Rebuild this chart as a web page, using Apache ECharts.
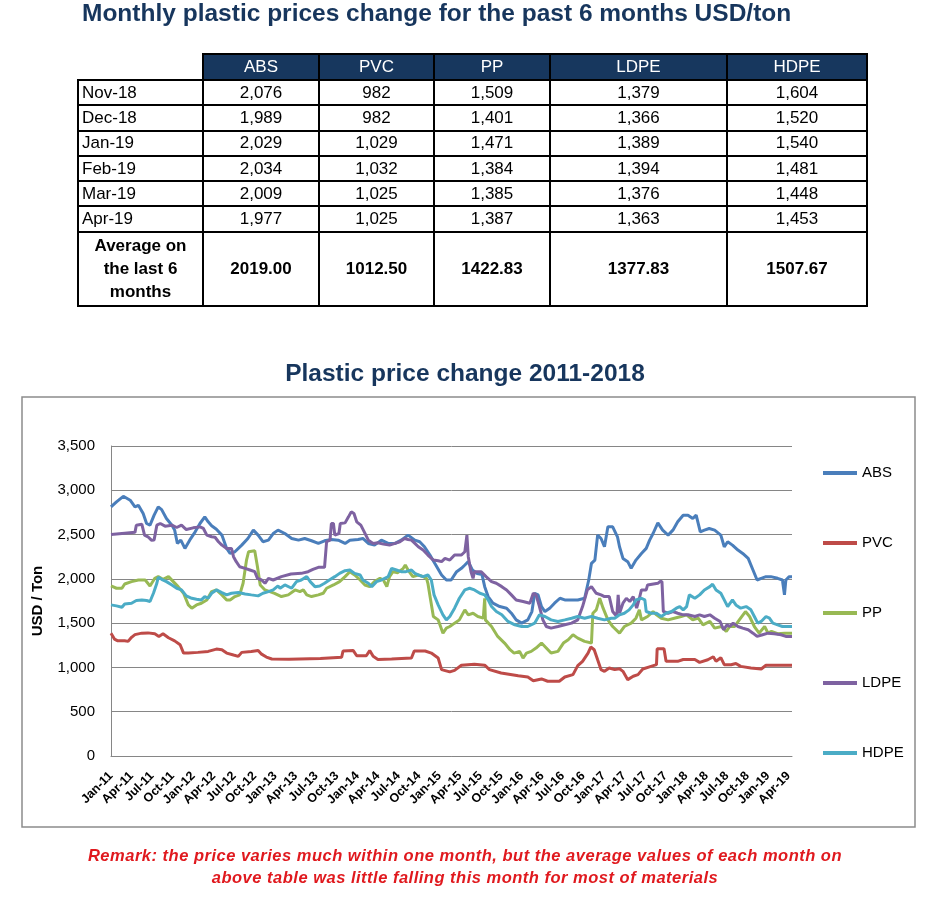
<!DOCTYPE html>
<html>
<head>
<meta charset="utf-8">
<script src="https://cdn.jsdelivr.net/npm/echarts@6/dist/echarts.min.js"></script>
<style>
  html, body { margin: 0; padding: 0; background: #fff; }
  #page { position: relative; width: 930px; height: 900px; overflow: hidden; font-family: "Liberation Sans", Arial, sans-serif; }
  #chart { position: absolute; left: 0; top: 0; width: 930px; height: 900px; }
  .ttl { position: absolute; font-weight: bold; font-size: 24.5px; line-height: 24px; color: #17365d; white-space: nowrap; z-index: 2; }
  #tbl { position: absolute; left: 77px; top: 53px; border-collapse: collapse; table-layout: fixed; font-size: 17px; z-index: 2; }
  #tbl td { border: 2px solid #000; padding: 0; text-align: center; overflow: hidden; white-space: nowrap; color: #000; }
  #tbl td.hd { background: #17375e; color: #fff; height: 24px; }
  #tbl td.blank { border-top: hidden; border-left: hidden; background: #fff; }
  #tbl td.lab { text-align: left; padding-left: 3px; }
  #tbl tr.dr td { height: 23.3px; }
  #tbl tr.avg td { height: 72px; font-weight: bold; line-height: 23px; white-space: normal; }
  #remark { position: absolute; left: 0; width: 930px; top: 844px; text-align: center; color: #e0191e; font-weight: bold; font-style: italic; font-size: 16.5px; letter-spacing: 0.5px; line-height: 22px; z-index: 2; }
</style>
</head>
<body>
<div id="page">
  <div id="chart"></div>
  <div class="ttl" id="title1" style="top:1px; left:82px;"></div>
  <table id="tbl"></table>
  <div class="ttl" id="title2" style="top:361px; left:0; width:930px; text-align:center;"></div>
  <div id="remark"></div>
</div>
<script>
// ---------- texts ----------
const title1Text = 'Monthly plastic prices change for the past 6 months USD/ton';
const title2Text = 'Plastic price change 2011-2018';
const remarkLines = [
  'Remark: the price varies much within one month, but the average values of each month on',
  'above table was little falling this month for most of materials'
];
const yAxisName = 'USD / Ton';

// ---------- table data ----------
const tableHeaders = ['ABS', 'PVC', 'PP', 'LDPE', 'HDPE'];
const tableMonths = ['Nov-18', 'Dec-18', 'Jan-19', 'Feb-19', 'Mar-19', 'Apr-19'];
const tableABS  = [2076, 1989, 2029, 2034, 2009, 1977];
const tablePVC  = [982, 982, 1029, 1032, 1025, 1025];
const tablePP   = [1509, 1401, 1471, 1384, 1385, 1387];
const tableLDPE = [1379, 1366, 1389, 1394, 1376, 1363];
const tableHDPE = [1604, 1520, 1540, 1481, 1448, 1453];
const tableAvgLabel = 'Average on the last 6 months';
const tableAvg = [2019.00, 1012.50, 1422.83, 1377.83, 1507.67];

// ---------- chart axis labels ----------
const xTickLabels = [
  'Jan-11','Apr-11','Jul-11','Oct-11','Jan-12','Apr-12','Jul-12','Oct-12',
  'Jan-13','Apr-13','Jul-13','Oct-13','Jan-14','Apr-14','Jul-14','Oct-14',
  'Jan-15','Apr-15','Jul-15','Oct-15','Jan-16','Apr-16','Jul-16','Oct-16',
  'Jan-17','Apr-17','Jul-17','Oct-17','Jan-18','Apr-18','Jul-18','Oct-18',
  'Jan-19','Apr-19'
];
const seriesNames = ['ABS', 'PVC', 'PP', 'LDPE', 'HDPE'];

// ---------- chart series: [months since Jan-11, USD/ton] ----------
const absData = [[0,2812],[0.8,2870],[1.8,2932],[2.8,2888],[3.5,2812],[4,2830],[4.7,2737],[5.2,2625],[5.7,2606],[6.3,2719],[6.9,2812],[7.4,2782],[8.1,2681],[8.9,2606],[9.3,2550],[9.7,2400],[10.2,2437],[10.8,2344],[11.5,2437],[12.3,2531],[13,2625],[13.7,2700],[14.2,2644],[14.7,2600],[15.4,2560],[16.2,2494],[16.9,2344],[17.4,2287],[18.1,2306],[19.1,2381],[20,2456],[20.8,2550],[21.5,2494],[22.2,2419],[23,2437],[23.7,2512],[24.4,2550],[25.4,2512],[26.4,2456],[27.4,2437],[28.3,2456],[29.3,2430],[30.3,2400],[31.2,2430],[32.2,2445],[33.2,2437],[34.2,2400],[34.9,2437],[36.1,2445],[36.8,2456],[37.6,2400],[38.5,2381],[39.5,2437],[40.5,2400],[41.5,2400],[42.4,2437],[43.4,2494],[44.4,2437],[45.1,2419],[45.8,2362],[46.6,2269],[47.3,2175],[48.3,2044],[49,1987],[49.7,1987],[50.5,2081],[51.2,2119],[51.7,2156],[52.2,2194],[52.8,2100],[53.5,2060],[54.2,2050],[54.6,1912],[55.1,1800],[55.8,1725],[56.8,1687],[57.8,1669],[58.5,1612],[59.2,1537],[60,1500],[60.9,1537],[61.5,1631],[61.9,1837],[62.4,1819],[62.9,1687],[63.4,1631],[64.1,1669],[64.8,1725],[65.6,1781],[66.3,1762],[67.3,1762],[68.2,1762],[69.2,1781],[69.8,1987],[70.2,2175],[70.7,2212],[71.1,2494],[71.6,2456],[72.1,2362],[72.6,2587],[73.3,2587],[74,2475],[74.3,2362],[74.8,2231],[75.5,2194],[76,2119],[76.7,2212],[77.5,2287],[78.2,2344],[78.7,2437],[79.2,2512],[79.9,2632],[80.6,2550],[81.4,2494],[82.1,2550],[82.8,2644],[83.6,2719],[84.3,2719],[85,2681],[85.5,2719],[86.1,2531],[86.7,2550],[87.4,2569],[88.2,2550],[89.1,2494],[89.6,2362],[90.1,2419],[90.8,2381],[91.6,2325],[92.3,2287],[93.1,2231],[93.8,2100],[94.4,1987],[95,2006],[95.7,2025],[96.4,2025],[97.4,2006],[98.1,1987],[98.4,1819],[98.6,1987],[99.1,2025],[99.5,2025]];
const pvcData = [[0,1387],[0.5,1320],[1,1300],[2,1300],[2.5,1294],[3,1340],[3.5,1370],[4.5,1387],[5.4,1390],[6.4,1380],[7,1350],[7.6,1380],[8.4,1335],[9.3,1300],[10.1,1256],[10.6,1162],[11.3,1162],[12.7,1170],[14.2,1181],[15.4,1207],[16.2,1200],[16.9,1162],[17.9,1140],[18.6,1125],[19.1,1170],[20.5,1181],[21.5,1192],[22,1150],[22.7,1117],[23.5,1095],[26,1093],[30.6,1100],[33.7,1115],[33.9,1185],[35.4,1190],[35.9,1132],[37.3,1132],[37.8,1190],[38.3,1125],[39,1090],[41,1095],[43.9,1106],[44.3,1185],[45.9,1185],[46.8,1162],[47.8,1106],[48.3,975],[49.5,950],[50.2,967],[51.2,1025],[53.1,1035],[54.6,1025],[55.3,975],[57,937],[59.5,907],[60.9,892],[61.7,850],[62.9,870],[63.8,844],[65.5,844],[66.3,892],[67.5,919],[68.2,1020],[68.9,1069],[69.7,1162],[70.1,1230],[70.6,1200],[71.1,1087],[71.6,975],[72.1,956],[72.8,994],[73.6,975],[74.3,985],[74.8,956],[75.5,862],[76.3,900],[77,919],[77.7,982],[78.9,1012],[79.7,1031],[79.8,1210],[80.8,1210],[81.1,1069],[82.8,1069],[83.6,1090],[85.3,1090],[86,1057],[87.2,1087],[88,1120],[88.4,1069],[89.1,1110],[89.6,1031],[90.6,1031],[91.3,1045],[92,1012],[93.5,994],[95,982],[95.7,1025],[99.5,1025]];
const ppData = [[0,1920],[0.8,1894],[1.6,1894],[2,1942],[3,1969],[4,1987],[5,1987],[5.7,1920],[6.4,2006],[6.9,2025],[7.6,1995],[8.4,2025],[9.1,1969],[9.8,1912],[10.6,1837],[11.3,1706],[11.8,1669],[12.5,1706],[13.2,1725],[14,1762],[14.7,1856],[15.4,1875],[16.2,1819],[16.9,1762],[17.4,1762],[18.1,1800],[18.8,1819],[19.3,1950],[19.8,2212],[20.1,2306],[21,2317],[21.4,2137],[21.8,1931],[22.5,1875],[23.2,1856],[23.9,1837],[24.9,1800],[25.9,1819],[26.9,1875],[27.6,1856],[28.1,1875],[28.6,1819],[29.3,1800],[30.3,1819],[31,1837],[31.5,1894],[32.5,1931],[33.4,1969],[34.2,2025],[34.9,2081],[35.6,2044],[36.4,1987],[37.1,1931],[37.8,1912],[38.5,1969],[39.3,2006],[39.8,1987],[40.3,1912],[40.7,2025],[41.2,2081],[41.9,2070],[42.7,2119],[43,2156],[43.4,2100],[44.1,2025],[44.9,2044],[45.6,2025],[46.1,2006],[46.3,1950],[46.7,1762],[47.1,1575],[47.8,1537],[48.5,1387],[49,1444],[49.5,1462],[50.2,1500],[50.9,1537],[51.7,1650],[52.2,1594],[52.9,1612],[53.6,1575],[54.4,1556],[54.6,1781],[54.7,1537],[55.6,1462],[56.5,1350],[57.5,1275],[58.3,1200],[58.9,1162],[59.7,1181],[60.2,1106],[60.7,1162],[61.4,1181],[62.1,1219],[62.9,1275],[63.6,1219],[64.3,1162],[65.3,1181],[66.1,1275],[66.8,1312],[67.5,1369],[68.2,1331],[69.2,1294],[70.2,1275],[70.4,1612],[70.9,1650],[71.4,1781],[71.9,1669],[72.6,1537],[73.3,1462],[74.3,1387],[75,1462],[76,1500],[76.7,1556],[77.2,1650],[77.5,1537],[78.4,1575],[79.2,1631],[79.7,1594],[80.4,1556],[81.4,1537],[82.3,1556],[83.3,1575],[84.1,1594],[85,1537],[85.8,1556],[86.5,1481],[87.5,1519],[88.2,1444],[89.2,1462],[89.9,1406],[90.4,1462],[91.1,1462],[91.8,1537],[92.7,1631],[93.3,1575],[94,1462],[94.7,1387],[95.5,1462],[96,1387],[96.5,1406],[97.4,1380],[98.4,1387],[99.5,1387]];
const ldpeData = [[0,2500],[2,2515],[3.5,2525],[3.7,2606],[4.5,2617],[4.9,2494],[5.4,2475],[5.9,2437],[6.3,2440],[6.7,2606],[7.2,2625],[7.9,2595],[8.9,2606],[9.6,2580],[10.3,2606],[11,2557],[12,2576],[13,2587],[13.5,2569],[14,2494],[14.7,2475],[15.2,2470],[15.7,2419],[16.2,2381],[16.9,2344],[17.6,2344],[17.9,2250],[18.3,2194],[18.8,2137],[19.6,2119],[20.3,2100],[21,2081],[21.4,2006],[22,1987],[22.5,1950],[23,2006],[23.7,1987],[24.9,2025],[26.3,2055],[27.8,2062],[28.8,2081],[29.5,2107],[30.3,2130],[31.2,2130],[31.5,2419],[32,2437],[32.2,2625],[32.5,2625],[32.7,2494],[33.3,2512],[33.5,2625],[34.2,2632],[34.7,2700],[35.1,2756],[35.5,2737],[35.9,2644],[36.5,2606],[37,2531],[37.6,2437],[38.3,2400],[39,2407],[39.8,2392],[40.7,2381],[41.5,2400],[42.2,2419],[42.9,2456],[43.4,2445],[43.9,2437],[44.4,2400],[44.9,2362],[45.6,2325],[46.3,2269],[47.1,2212],[47.8,2205],[48.3,2194],[48.8,2231],[49.5,2212],[50.2,2269],[51.2,2269],[51.7,2306],[52,2494],[52.2,2250],[52.6,2081],[52.9,2006],[53.1,2081],[54.1,2081],[54.8,2025],[55.6,1969],[56.3,1950],[57.1,1912],[57.8,1875],[58.5,1819],[59.2,1762],[60.2,1744],[61.2,1725],[61.7,1837],[62.1,1819],[62.6,1687],[63.1,1537],[63.6,1462],[64.3,1444],[65.3,1462],[66.3,1481],[67.3,1500],[68.2,1537],[68.9,1687],[69.6,1875],[70.2,1912],[70.9,1837],[71.6,1819],[72.1,1800],[72.8,1800],[73.3,1631],[73.9,1575],[74.1,1819],[74.3,1612],[74.8,1725],[75.3,1781],[75.8,1744],[76.3,1800],[76.8,1669],[77.2,1781],[77.5,1875],[78.2,1875],[78.4,1931],[79.9,1950],[80.2,1969],[80.5,1969],[80.7,1631],[81.4,1612],[82.1,1631],[82.8,1612],[83.6,1594],[84.3,1594],[85.3,1575],[86,1594],[86.7,1575],[87.5,1594],[88.2,1556],[89,1519],[89.5,1425],[90,1481],[90.4,1462],[90.9,1500],[91.6,1462],[92.3,1444],[93.1,1425],[93.8,1387],[94.4,1350],[95.2,1369],[96,1387],[96.9,1380],[97.9,1369],[98.6,1350],[99.5,1350]];
const hdpeData = [[0,1706],[0.8,1695],[1.6,1680],[2,1717],[3,1725],[3.7,1755],[4.5,1762],[5.2,1755],[5.7,1744],[6.2,1837],[6.7,1950],[6.9,2017],[7.4,1995],[8.1,1969],[8.9,1931],[9.6,1894],[10.3,1875],[11,1808],[11.8,1781],[12.5,1770],[13.2,1762],[13.7,1800],[14.2,1781],[14.7,1837],[15.4,1875],[16.2,1845],[16.9,1819],[17.6,1837],[18.6,1845],[19.6,1830],[20.5,1819],[21.5,1808],[22.2,1837],[23,1856],[23.7,1875],[24.4,1920],[24.7,1894],[25.4,1931],[26.4,1894],[27.1,1969],[27.8,1987],[28.6,2025],[29.1,1969],[29.8,1912],[30.5,1920],[31.2,1950],[31.9,1987],[32.7,2025],[33.4,2062],[34.2,2092],[34.9,2100],[35.6,2062],[36.4,2044],[36.8,1987],[37.6,1950],[38.1,1912],[38.8,1969],[39.5,1987],[40.5,2025],[41,2119],[41.7,2100],[42.4,2081],[43.1,2081],[43.9,2100],[44.4,2062],[44.9,2044],[45.6,2025],[46.3,2044],[46.8,1987],[47.2,1819],[47.8,1706],[48.5,1594],[49,1537],[49.5,1575],[50.2,1669],[50.9,1781],[51.7,1875],[52.4,1894],[53.1,1875],[53.9,1837],[54.6,1819],[55.1,1762],[55.6,1687],[56.3,1631],[57.1,1594],[58,1519],[59,1481],[60,1462],[60.9,1462],[61.9,1500],[62.6,1594],[63.4,1575],[64.3,1537],[65.3,1519],[66.3,1537],[67.3,1556],[68.2,1575],[69.2,1556],[70.2,1575],[71.1,1556],[72.1,1537],[73.1,1556],[73.6,1556],[74.3,1594],[75,1612],[75.7,1650],[76.3,1706],[76.7,1762],[77.5,1781],[78,1762],[78.2,1631],[78.9,1612],[79.7,1612],[80.4,1575],[81.1,1612],[81.9,1631],[82.6,1669],[83.1,1687],[83.6,1650],[84.1,1687],[84.5,1819],[85.3,1781],[86,1819],[86.7,1875],[87.5,1912],[87.9,1940],[88.4,1875],[89.1,1837],[89.6,1762],[90.1,1687],[90.8,1762],[91.3,1706],[92,1669],[92.8,1687],[93.5,1650],[94,1575],[94.5,1500],[95,1519],[95.7,1575],[96.2,1556],[96.7,1500],[97.4,1481],[98.1,1462],[99.5,1462]];

// ---------- build texts ----------
document.getElementById('title1').textContent = title1Text;
document.getElementById('title2').textContent = title2Text;
document.getElementById('remark').innerHTML = remarkLines.map(s => '<div>' + s + '</div>').join('');

// ---------- build table ----------
const colWidths = [125, 116, 115, 116, 177, 140];
const tbl = document.getElementById('tbl');
const cg = document.createElement('colgroup');
colWidths.forEach(w => { const c = document.createElement('col'); c.style.width = w + 'px'; cg.appendChild(c); });
tbl.appendChild(cg);
const fmt = v => v.toLocaleString('en-US');
let html = '<tr><td class="blank"></td>' + tableHeaders.map(h => '<td class="hd">' + h + '</td>').join('') + '</tr>';
const cols = [tableABS, tablePVC, tablePP, tableLDPE, tableHDPE];
tableMonths.forEach((m, i) => {
  html += '<tr class="dr"><td class="lab">' + m + '</td>' + cols.map(c => '<td>' + fmt(c[i]) + '</td>').join('') + '</tr>';
});
html += '<tr class="avg"><td>' + tableAvgLabel.replace('on the', 'on<br>the').replace('6 months', '6<br>months') + '</td>' +
  tableAvg.map(v => '<td>' + v.toFixed(2) + '</td>').join('') + '</tr>';
tbl.insertAdjacentHTML('beforeend', html);

// ---------- chart ----------
const colors = ['#4a7ebb', '#be4b48', '#98b954', '#7e62a1', '#4bacc6'];
const allData = [absData, pvcData, ppData, ldpeData, hdpeData];
const chart = echarts.init(document.getElementById('chart'), null, { renderer: 'canvas' });
const FONT = '"Liberation Sans", Arial, sans-serif';
chart.setOption({
  animation: false,
  backgroundColor: 'transparent',
  color: colors,
  textStyle: { fontFamily: FONT },
  grid: { left: 111, right: 138, top: 446, bottom: 144, outerBoundsMode: 'none' },
  legend: {
    orient: 'vertical', left: 818, top: 460,
    itemWidth: 34, itemHeight: 4, itemGap: 54, icon: 'rect',
    textStyle: { fontSize: 15, color: '#000', lineHeight: 16, fontFamily: FONT },
    data: seriesNames
  },
  xAxis: {
    type: 'value', min: 0, max: 99.5, interval: 3,
    axisLine: { show: true, lineStyle: { color: '#868686', width: 1 } },
    axisTick: { show: false },
    splitLine: { show: false },
    axisLabel: {
      rotate: 45, margin: 18, fontSize: 12.5, fontWeight: 'bold', color: '#000', fontFamily: FONT,
      showMinLabel: true, showMaxLabel: true,
      formatter: function (v) {
        const k = Math.round(v / 3);
        return Math.abs(v - k * 3) < 1e-6 && xTickLabels[k] ? xTickLabels[k] : '';
      }
    }
  },
  yAxis: {
    type: 'value', min: 0, max: 3500, interval: 500,
    name: yAxisName, nameLocation: 'middle', nameGap: 66,
    nameTextStyle: { fontSize: 15, fontWeight: 'bold', color: '#000', fontFamily: FONT },
    axisLine: { show: true, lineStyle: { color: '#868686', width: 1 } },
    axisTick: { show: false },
    splitLine: { show: true, lineStyle: { color: '#868686', width: 1 } },
    axisLabel: { fontSize: 15, color: '#000', margin: 16, fontFamily: FONT, formatter: v => fmt(v) }
  },
  graphic: [{
    type: 'rect', z: -10,
    shape: { x: 22, y: 397, width: 893, height: 430 },
    style: { fill: 'none', stroke: '#8c8c8c', lineWidth: 1.5 }
  }],
  series: seriesNames.map((n, i) => ({
    name: n, type: 'line', data: allData[i], showSymbol: false, symbol: 'none',
    lineStyle: { width: 3, color: colors[i] }, itemStyle: { color: colors[i] },
    smooth: false
  }))
});
</script>
</body>
</html>
